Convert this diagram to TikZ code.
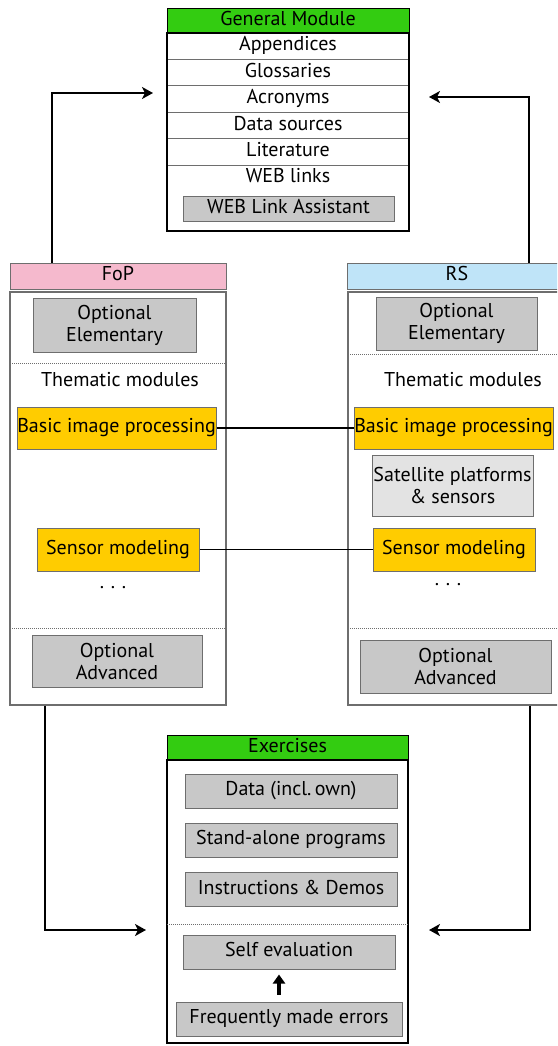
\documentclass[tikz,border=0pt]{standalone}
\usepackage{fontspec}
\setmainfont{PT Sans}
\usetikzlibrary{arrows.meta, calc, positioning}
\definecolor{gruen}{HTML}{33CC11}
\definecolor{rosa}{HTML}{F5B9CD}
\definecolor{hellblau}{HTML}{BFE4F8}
\definecolor{gelb}{HTML}{FFCC00}
\definecolor{grau}{HTML}{C8C8C8}
\definecolor{hellgrau}{HTML}{E3E3E3}
\definecolor{rahmen}{HTML}{6E6E6E}

\begin{document}
\begin{tikzpicture}[
    x=1pt, y=-1pt,
    every node/.style={font=\fontsize{20}{22}\selectfont, inner sep=0pt, align=center},
    einz/.style={text height=14pt, text depth=4.5pt},
    kopf/.style={draw=rahmen, line width=1pt, einz},
    zeile/.style={draw=rahmen, line width=1pt, minimum width=242pt, minimum height=26.4pt, einz},
    kasten/.style={draw=rahmen, fill=grau, line width=1pt},
    modul/.style={draw=rahmen, fill=gelb, line width=1pt, einz},
    trenn/.style={densely dotted, rahmen, line width=1pt},
    fluss/.style={line width=2.2pt, -{Stealth[length=11pt, width=12pt, inset=3pt]}},
    verb/.style={line width=1.5pt},
  ]
  \useasboundingbox (0,0) rectangle (557,1046);
  \clip (0,0) rectangle (557,1046);

  % General Module
  \node[kopf, draw=black, fill=gruen, minimum width=242pt, minimum height=24pt] (genkopf) at (288,21) {General Module};
  \foreach \i/\t in {0/Appendices, 1/Glossaries, 2/Acronyms, 3/Data sources, 4/Literature} {
    \node[zeile] (zeile\i) at (288, 46.2+26.4*\i) {\t};
  }
  \node[einz] (weblinks) at (288,178) {WEB links};
  \node[kasten, einz, minimum width=211pt, minimum height=25pt] (assist) at (288.5,208.5) {WEB Link Assistant};
  \node[draw, line width=2pt, minimum width=242pt, minimum height=198pt] (gen) at (288,132) {};

  % FoP
  \node[kopf, fill=rosa, minimum width=216pt, minimum height=26pt] (fopkopf) at (118,276) {FoP};
  \node[draw=rahmen, line width=1.3pt, minimum width=216pt, minimum height=413pt] (fop) at (118,498.5) {};
  \node[kasten, minimum width=163pt, minimum height=54pt] (fopelem) at (114.5,325) {Optional\\Elementary};
  \draw[trenn] (10,363) -- (226,363);
  \node[einz] (fopthema) at (120,382) {Thematic modules};
  \node[modul, minimum width=199pt, minimum height=42pt] (fopbild) at (116.5,428) {Basic image processing};
  \node[modul, minimum width=162pt, minimum height=43pt] (fopsens) at (118,549.5) {Sensor modeling};
  \node (foppunkte) at (113,588) {.\,\,.\,\,.};
  \draw[trenn] (10,628) -- (226,628);
  \node[kasten, minimum width=170pt, minimum height=52pt] (fopadv) at (117,661) {Optional\\Advanced};

  % RS
  \node[kopf, fill=hellblau, minimum width=220pt, minimum height=26pt] (rskopf) at (457,276) {RS};
  \node[draw=rahmen, line width=1.3pt, minimum width=219pt, minimum height=413pt] (rs) at (457.5,498.5) {};
  \node[kasten, minimum width=161pt, minimum height=53pt] (rselem) at (456.5,323.5) {Optional\\Elementary};
  \draw[trenn] (348,354) -- (557,354);
  \node[einz] (rsthema) at (463,382) {Thematic modules};
  \node[modul, minimum width=199pt, minimum height=42pt] (rsbild) at (453.5,428) {Basic image processing};
  \node[kasten, fill=hellgrau, minimum width=161pt, minimum height=61pt] (rssat) at (452.5,485.5) {Satellite platforms\\\& sensors};
  \node[modul, minimum width=162pt, minimum height=43pt] (rssens) at (454,549.5) {Sensor modeling};
  \node (rspunkte) at (448,585) {.\,\,.\,\,.};
  \draw[trenn] (348,628) -- (557,628);
  \node[kasten, minimum width=191pt, minimum height=53pt] (rsadv) at (455.5,666.5) {Optional\\Advanced};

  % Exercises
  \node[kopf, draw=black, fill=gruen, minimum width=241pt, minimum height=25pt] (exkopf) at (287.5,747.5) {Exercises};
  \node[draw, line width=2pt, minimum width=241pt, minimum height=283pt] (ex) at (287.5,901.5) {};
  \node[kasten, einz, minimum width=212pt, minimum height=34pt] (exdaten) at (291,791) {Data (incl.\,own)};
  \node[kasten, einz, minimum width=212pt, minimum height=34pt] (exprog) at (291,840) {Stand-alone programs};
  \node[kasten, einz, minimum width=212pt, minimum height=34pt] (exdemo) at (291,889.5) {Instructions \& Demos};
  \draw[trenn] (167,924) -- (408,924);
  \node[kasten, einz, minimum width=212pt, minimum height=34pt] (exselbst) at (289,952) {Self evaluation};
  \node[kasten, einz, minimum width=226pt, minimum height=34pt] (exfehler) at (289,1019) {Frequently made errors};
  \draw[line width=4pt, -{Triangle[length=9pt, width=12pt]}, shorten <=7pt, shorten >=5pt]
    (exfehler.north -| 279,0) -- (exselbst.south -| 279,0);

  % Querverbindungen
  \draw[verb] (fopbild) -- (rsbild);
  \draw[verb] (fopsens) -- (rssens);

  % Pfeile zu General Module und Exercises
  \coordinate (knickLO) at (52,93);
  \coordinate (knickRO) at (529,97);
  \coordinate (knickLU) at (45,930);
  \coordinate (knickRU) at (530,930);
  \draw[fluss, shorten >=13pt] (fopkopf.north -| knickLO) -- (knickLO) -- (gen.west |- knickLO);
  \draw[fluss, shorten >=19pt] (rskopf.north -| knickRO) -- (knickRO) -- (gen.east |- knickRO);
  \draw[fluss, shorten >=20pt] (fop.south -| knickLU) -- (knickLU) -- (ex.west |- knickLU);
  \draw[fluss, shorten >=20pt] (rs.south -| knickRU) -- (knickRU) -- (ex.east |- knickRU);
\end{tikzpicture}
\end{document}
